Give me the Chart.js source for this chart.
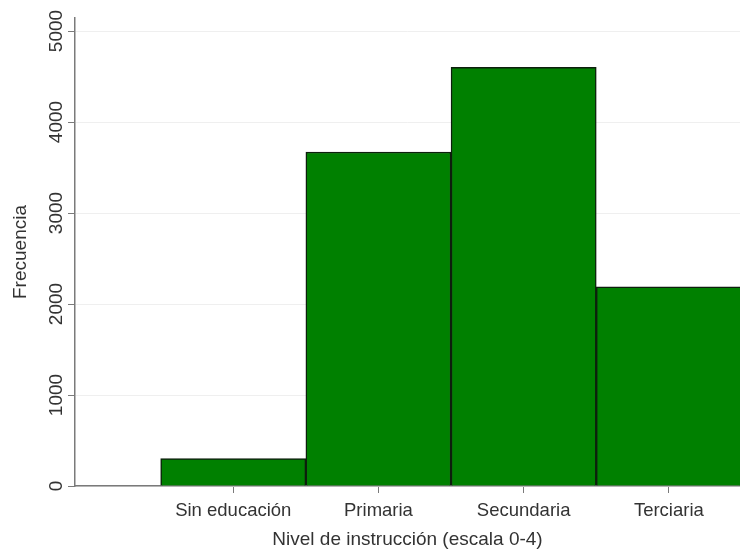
<!DOCTYPE html>
<html>
<head>
<meta charset="utf-8">
<script src="https://cdn.jsdelivr.net/npm/chart.js@4/dist/chart.umd.min.js"></script>
<style>
  html, body { margin: 0; padding: 0; background: #fff; }
  #wrap { width: 740px; height: 553px; }
</style>
</head>
<body>
<div id="wrap"><canvas id="chart"></canvas></div>
<script>
// Datos del histograma
const niveles = [1, 2, 3, 4];
const categorias = ['Sin educación', 'Primaria', 'Secundaria', 'Terciaria'];
const frecuencias = [300, 3670, 4600, 2190];
const yTicks = [0, 1000, 2000, 3000, 4000, 5000];

const textCol = '#333';
const axisCol = '#7a7a7a';
const fontFam = '"Liberation Sans", Arial, sans-serif';

new Chart(document.getElementById('chart'), {
    type: 'bar',
    data: {
        datasets: [{
            data: niveles.map((x, i) => ({ x: x, y: frecuencias[i] })),
            backgroundColor: '#008000',
            borderColor: '#0d1f0d',
            borderWidth: 1.5,
            barPercentage: 1,
            categoryPercentage: 1
        }]
    },
    options: {
        responsive: true,
        maintainAspectRatio: false,
        animation: false,
        layout: { padding: { top: 18, right: 0, bottom: 0, left: 0 } },
        plugins: { legend: { display: false }, tooltip: { enabled: false } },
        scales: {
            x: {
                type: 'linear',
                offset: false,
                min: -0.09,
                max: 4.49,
                afterBuildTicks: s => { s.ticks = niveles.map(v => ({ value: v })); },
                afterFit: s => { s.height = 67; },
                grid: { offset: false, drawOnChartArea: false, tickLength: 7, tickColor: axisCol },
                border: { color: axisCol, width: 1.5 },
                ticks: {
                    color: textCol,
                    font: { family: fontFam, size: 18.5 },
                    padding: 7,
                    maxRotation: 0,
                    autoSkip: false,
                    callback: v => categorias[niveles.indexOf(v)]
                },
                title: {
                    display: true,
                    text: 'Nivel de instrucción (escala 0-4)',
                    color: textCol,
                    font: { family: fontFam, size: 19 },
                    padding: { top: 0, bottom: 2 }
                }
            },
            y: {
                min: 0,
                max: 5143,
                afterBuildTicks: s => { s.ticks = yTicks.map(v => ({ value: v })); },
                afterFit: s => { s.width = 75; },
                grid: { color: '#efefef', tickLength: 7, tickColor: axisCol },
                border: { color: axisCol, width: 1.5 },
                ticks: {
                    color: textCol,
                    font: { family: fontFam, size: 19 },
                    minRotation: 90,
                    maxRotation: 90,
                    crossAlign: 'center',
                    padding: -10,
                    autoSkip: false,
                    callback: v => String(v)
                },
                title: {
                    display: true,
                    text: 'Frecuencia',
                    color: textCol,
                    font: { family: fontFam, size: 19 },
                    padding: { top: 9, bottom: 0 }
                }
            }
        }
    }
});
</script>
</body>
</html>
